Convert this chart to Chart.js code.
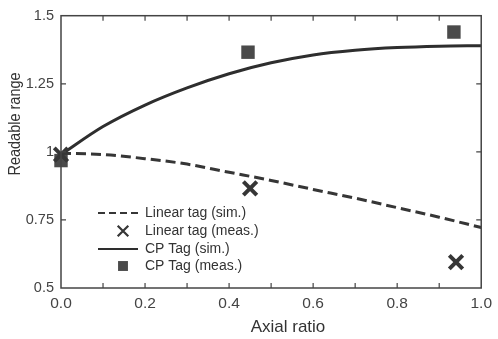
<!DOCTYPE html>
<html>
<head>
<meta charset="utf-8">
<script src="https://cdn.jsdelivr.net/npm/chart.js@4/dist/chart.umd.min.js"></script>
<style>
  html, body { margin: 0; padding: 0; background: #fff; }
  #wrap { width: 498px; height: 339px; }
</style>
</head>
<body>
<div id="wrap"><canvas id="chart"></canvas></div>
<script>
// ===== DATA =====
const simX = [0, 0.1, 0.2, 0.3, 0.4, 0.5, 0.6, 0.7, 0.8, 0.9, 1.0];
const linearSim = [0.995, 0.99, 0.975, 0.955, 0.925, 0.895, 0.862, 0.83, 0.795, 0.76, 0.722];
const cpSim = [0.99, 1.093, 1.172, 1.235, 1.287, 1.327, 1.356, 1.373, 1.383, 1.388, 1.39];
const linearMeasX = [0, 0.45, 0.94];
const linearMeas = [0.99, 0.866, 0.595];
const cpMeasX = [0, 0.445, 0.935];
const cpMeas = [0.968, 1.366, 1.44];
const xTicks = [0, 0.2, 0.4, 0.6, 0.8, 1.0];
const yTicks = [0.5, 0.75, 1, 1.25, 1.5];
const labels = ['Linear tag (sim.)', 'Linear tag (meas.)', 'CP Tag (sim.)', 'CP Tag (meas.)'];
const xTitle = 'Axial ratio';
const yTitle = 'Readable range';

const ink = '#363636';
const fontFamily = '"Liberation Sans", Arial, sans-serif';
const pts = (xs, ys) => xs.map((x, i) => ({ x: x, y: ys[i] }));

// box, inner ticks, axis titles and the legend in the lower left
const framePlugin = {
    id: 'frame',
    afterDraw(chart) {
        const ctx = chart.ctx;
        const a = chart.chartArea;
        const xs = chart.scales.x, ys = chart.scales.y;
        ctx.save();
        ctx.strokeStyle = '#444';
        ctx.lineWidth = 1.5;
        ctx.strokeRect(a.left, a.top, a.right - a.left, a.bottom - a.top);
        ctx.lineWidth = 1.2;
        ctx.beginPath();
        for (let i = 1; i < 10; i++) {
            const px = xs.getPixelForValue(i / 10);
            ctx.moveTo(px, a.bottom); ctx.lineTo(px, a.bottom - 5);
            ctx.moveTo(px, a.top); ctx.lineTo(px, a.top + 5);
        }
        yTicks.slice(1, -1).forEach(v => {
            const py = ys.getPixelForValue(v);
            ctx.moveTo(a.left, py); ctx.lineTo(a.left + 5, py);
            ctx.moveTo(a.right, py); ctx.lineTo(a.right - 5, py);
        });
        ctx.stroke();

        // axis titles (sit a little off centre in the original)
        ctx.fillStyle = '#333';
        ctx.textAlign = 'center';
        ctx.textBaseline = 'middle';
        ctx.font = '17px ' + fontFamily;
        ctx.fillText(xTitle, 288, 327);
        ctx.save();
        ctx.translate(16, 124);
        ctx.rotate(-Math.PI / 2);
        ctx.scale(1, 1.12);  // scan is a bit wider than tall
        ctx.font = '14.5px ' + fontFamily;
        ctx.fillText(yTitle, 0, 0);
        ctx.restore();

        // legend
        const ds = chart.data.datasets;
        const lx = 98, tx = 145, rowY = [213, 231, 249, 266];
        ctx.font = '14px ' + fontFamily;
        ctx.textAlign = 'left';
        ds.forEach((d, i) => {
            const y = rowY[i];
            if (d.showLine) {
                ctx.strokeStyle = d.borderColor;
                ctx.lineWidth = 2.2;
                ctx.setLineDash(d.borderDash ? [7, 4] : []);
                ctx.beginPath();
                ctx.moveTo(lx, y); ctx.lineTo(lx + 40, y);
                ctx.stroke();
                ctx.setLineDash([]);
            } else {
                ctx.strokeStyle = d.borderColor;
                ctx.fillStyle = d.backgroundColor;
                Chart.helpers.drawPoint(ctx, {
                    pointStyle: d.pointStyle,
                    radius: d.pointStyle === 'rect' ? 7 : 7.5,
                    borderWidth: d.pointBorderWidth
                }, 123, y);
            }
            ctx.fillStyle = '#333';
            ctx.fillText(d.label, tx, y);
        });
        ctx.restore();
    }
};

Chart.defaults.font.family = fontFamily;
Chart.defaults.color = '#444';

new Chart(document.getElementById('chart'), {
    type: 'scatter',
    data: {
        datasets: [{
            label: labels[0],
            data: pts(simX, linearSim),
            showLine: true,
            borderColor: ink,
            borderWidth: 3,
            borderDash: [10, 5],
            pointRadius: 0,
            cubicInterpolationMode: 'monotone'
        }, {
            label: labels[1],
            data: pts(linearMeasX, linearMeas),
            showLine: false,
            pointStyle: 'crossRot',
            pointRadius: 9.5,
            pointBorderWidth: 4,
            borderColor: ink,
            backgroundColor: ink,
            clip: false
        }, {
            label: labels[2],
            data: pts(simX, cpSim),
            showLine: true,
            borderColor: '#2e2e2e',
            borderWidth: 3,
            pointRadius: 0,
            cubicInterpolationMode: 'monotone'
        }, {
            label: labels[3],
            data: pts(cpMeasX, cpMeas),
            showLine: false,
            pointStyle: 'rect',
            pointRadius: 9.5,
            pointBorderWidth: 0,
            borderColor: '#4a4a4a',
            backgroundColor: '#4a4a4a',
            clip: false
        }]
    },
    options: {
        responsive: true,
        maintainAspectRatio: false,
        animation: false,
        layout: { padding: { top: 11, right: 12, left: 0, bottom: 0 } },
        plugins: {
            legend: { display: false },
            tooltip: { enabled: false }
        },
        scales: {
            x: {
                type: 'linear',
                min: 0,
                max: 1,
                afterFit: s => { s.height = 51; },
                afterBuildTicks: s => { s.ticks = xTicks.map(v => ({ value: v })); },
                grid: { display: false, drawTicks: false },
                border: { display: false },
                ticks: {
                    padding: 6,
                    font: { size: 15.5 },
                    color: '#444',
                    callback: v => v.toFixed(1)
                }
            },
            y: {
                type: 'linear',
                min: 0.5,
                max: 1.5,
                afterFit: s => { s.width = 61; },
                afterBuildTicks: s => { s.ticks = yTicks.map(v => ({ value: v })); },
                grid: { display: false, drawTicks: false },
                border: { display: false },
                ticks: {
                    padding: 7,
                    font: { size: 14.5 },
                    color: '#444',
                    callback: v => String(v)
                }
            }
        }
    },
    plugins: [framePlugin]
});
</script>
</body>
</html>
